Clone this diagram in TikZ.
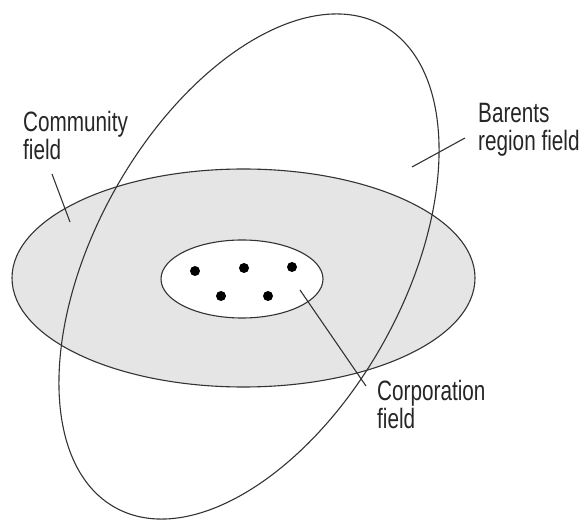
\documentclass[tikz,border=0pt]{standalone}
\usepackage{fontspec}
\setmainfont{Liberation Sans}[FakeStretch=0.74]
\begin{document}
\begin{tikzpicture}[x=1pt,y=1pt,
  outline/.style={draw=black!80, line width=1.1pt},
  leader/.style={draw=black!80, line width=1.1pt},
  dot/.style={circle, fill=black, inner sep=0pt, minimum size=10pt},
  lbl/.style={anchor=north west, inner sep=0pt, align=left, text=black!85,
    font=\fontsize{28}{28}\selectfont}]
\useasboundingbox (0,0) rectangle (587,-521);
% community field (grey)
\path[fill=black!10, outline] (243.5,-278) ellipse [x radius=231.5pt, y radius=109pt];
% Barents region field (tilted)
\draw[outline, rotate around={61:(249,-266.5)}] (249,-266.5) ellipse [x radius=275.7pt, y radius=154.5pt];
% corporation field
\path[fill=white, outline] (242,-279) ellipse [x radius=81pt, y radius=39pt];
\node[dot] (d1) at (195,-271) {};
\node[dot] (d2) at (244,-268) {};
\node[dot] (d3) at (292,-267) {};
\node[dot] (d4) at (221,-296) {};
\node[dot] (d5) at (268,-296) {};
% labels
\node[lbl] (community) at (23,-111) {Community\\field};
\node[lbl] (barents) at (478,-103) {Barents\\region field};
\node[lbl] (corporation) at (377,-380) {Corporation\\field};
% leaders
\coordinate (cA) at (52,-174);
\coordinate (cB) at (70,-222);
\coordinate (bA) at (465,-138);
\coordinate (bB) at (412,-167);
\coordinate (pA) at (300,-290);
\coordinate (pB) at (366,-386);
\draw[leader] (cA) -- (cB);
\draw[leader] (bA) -- (bB);
\draw[leader] (pA) -- (pB);
\end{tikzpicture}
\end{document}
